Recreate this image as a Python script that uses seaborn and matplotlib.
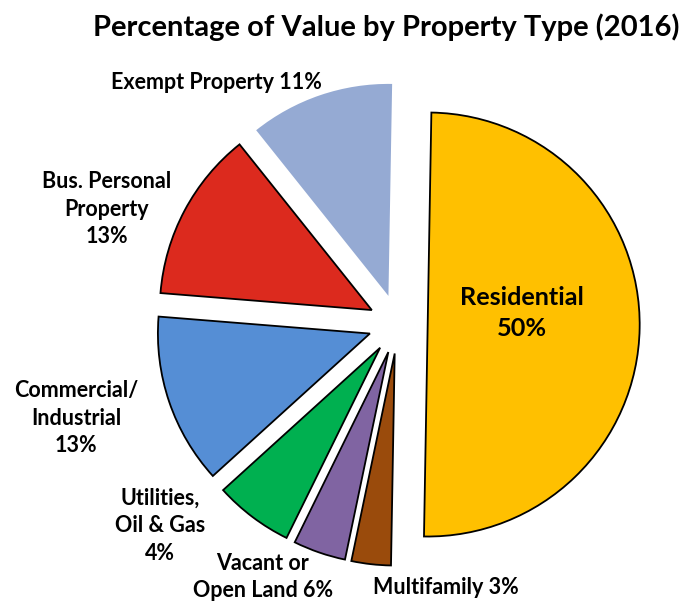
import matplotlib
matplotlib.use("Agg")
import matplotlib.pyplot as plt
import seaborn as sns

sns.set_theme(style="white")
plt.rcParams['font.family'] = ['Lato', 'DejaVu Sans']

# Data (clockwise from top)
categories = ["Residential", "Multifamily", "Utilities, Oil & Gas",
              "Vacant or Open Land", "Commercial/Industrial",
              "Bus. Personal Property", "Exempt Property"]
values = [50, 3, 4, 6, 13, 13, 11]
colors = ["#FFC000", "#9A4B0C", "#8064A2", "#00B050", "#558ED5",
          "#DC2A1E", "#95AAD3"]
label_texts = ["Residential\n50%", "Multifamily 3%", "Vacant or\nOpen Land 6%",
               "Utilities,\nOil & Gas\n4%", "Commercial/\nIndustrial\n13%",
               "Bus. Personal\nProperty\n13%", "Exempt Property 11%"]
# label centres in pixel coordinates of the figure (x from left, y from top)
label_px = [(522, 313), (446, 587), (263, 577), (160, 526),
            (76, 418), (107, 209), (216, 82)]

W, H = 686, 601
CX, CY, R = 398, 324, 212  # pie centre & radius in pixels

fig = plt.figure(figsize=(W / 100, H / 100), dpi=100)
ax = fig.add_axes([0, 0, 1, 1])

wedges, _ = ax.pie(values, colors=colors, startangle=89, counterclock=False,
                   explode=[0.14] * len(values),
                   wedgeprops=dict(edgecolor="black", linewidth=1.3))
wedges[-1].set_edgecolor("none")

ax.set_xlim(-CX / R, (W - CX) / R)
ax.set_ylim(-(H - CY) / R, CY / R)
ax.set_aspect("auto")
ax.axis("off")

for txt, (px, py) in zip(label_texts, label_px):
    ax.text((px - CX) / R, (CY - py) / R, txt, ha="center", va="center",
            fontsize=18.2 if txt.startswith("Residential") else 15.5,
            fontweight="bold", color="black", linespacing=1.38)

fig.text(386 / W, 1 - 27 / H, "Percentage of Value by Property Type (2016)",
         ha="center", va="center", fontsize=21, fontweight="bold",
         color="black")

fig.savefig("out.png", dpi=100)
